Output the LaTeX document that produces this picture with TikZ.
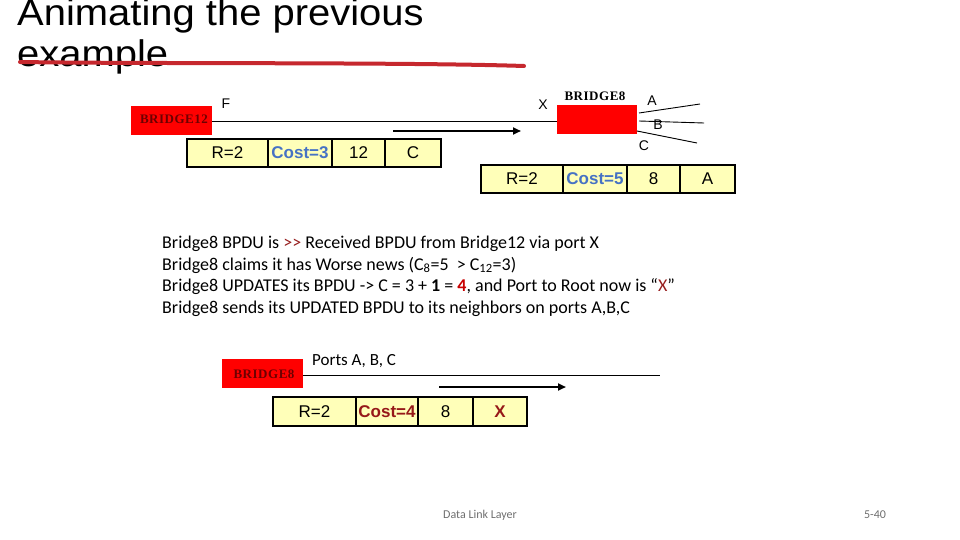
\documentclass[tikz,border=0pt]{standalone}
\usepackage{fontspec}
\setmainfont{Liberation Sans}
\newfontfamily\carl{Carlito}
\newfontfamily\titlefont[FakeStretch=1.08]{Liberation Sans}
\newfontfamily\brf[LetterSpace=4]{Liberation Serif}
\usetikzlibrary{arrows.meta}
\definecolor{cellyellow}{RGB}{255,255,185}
\definecolor{costblue}{RGB}{70,114,196}
\definecolor{costred}{RGB}{150,25,25}
\definecolor{brred}{RGB}{110,0,0}
\definecolor{darkred}{RGB}{150,30,30}
\definecolor{brightred}{RGB}{200,0,0}
\definecolor{strokered}{RGB}{198,40,46}
\definecolor{footgray}{RGB}{110,110,110}
\begin{document}
\begin{tikzpicture}[x=1pt,y=-1pt,
  cell/.style={draw=black, line width=2.6pt, fill=cellyellow, inner sep=0pt,
    minimum height=28pt, font=\fontsize{17}{20}\selectfont},
  bridgebox/.style={fill=red, inner sep=0pt, minimum width=81pt, minimum height=29pt},
  brlabel/.style={font=\brf\bfseries\fontsize{13}{15}\selectfont, inner sep=0pt},
  portlabel/.style={font=\fontsize{14}{16}\selectfont, inner sep=0pt},
  bodytext/.style={font=\carl\fontsize{18}{21}\selectfont, anchor=base west, inner sep=0pt},
  titletext/.style={font=\titlefont\fontsize{37}{43}\selectfont, anchor=base west, inner sep=0pt},
  wire/.style={line width=0.9pt},
  sendarrow/.style={line width=2pt, -{Triangle[length=8pt,width=7pt]}},
  foot/.style={font=\carl\fontsize{12}{14}\selectfont, text=footgray, inner sep=0pt}]
\useasboundingbox (0,0) rectangle (960,540);

% title
\node[titletext] (t1) at (17,26) {Animating the previous};
\node[titletext] (t2) at (17,67) {example};
\draw[strokered, line width=4pt, line cap=round] (20,62) .. controls (150,64) and (400,62) .. (524,66);

% top: bridge 12 and bridge 8
\node[bridgebox] (b12) at (171.5,121) {};
\node[brlabel, text=brred] (b12l) at (174,119.5) {BRIDGE12};
\node[bridgebox, minimum width=80pt] (b8) at (597,119.5) {};
\node[brlabel, text=black] (b8l) at (595,96) {BRIDGE8};
\draw[wire] (b12.east) -- (b12.east -| b8.west);
\node[portlabel] (lf) at (226,104) {F};
\node[portlabel] (lx) at (543,105) {X};

\coordinate (pa0) at (639,113);
\coordinate (pa1) at (700,104);
\coordinate (pb0) at (639,121);
\coordinate (pb1) at (704,123);
\coordinate (pc0) at (637,131);
\coordinate (pc1) at (697,143);
\draw[wire] (pa0) -- (pa1);
\draw[wire] (pb0) -- (pb1);
\draw[wire] (pc0) -- (pc1);
\node[portlabel] (la) at (652,101) {A};
\node[portlabel] (lb) at (658,125) {B};
\node[portlabel] (lc) at (644,146) {C};

\coordinate (a1s) at (393,131);
\coordinate (a1e) at (521,131);
\draw[sendarrow] (a1s) -- (a1e);

% table 1
\node[cell, minimum width=81pt] (c11) at (227.5,153) {R=2};
\node[cell, minimum width=64pt, text=costblue, font=\bfseries\fontsize{17}{20}\selectfont] (c12) at (300,153) {Cost=3};
\node[cell, minimum width=53pt] (c13) at (358.5,153) {12};
\node[cell, minimum width=56pt] (c14) at (413,153) {C};

% table 2
\node[cell, minimum width=82pt] (c21) at (522,179) {R=2};
\node[cell, minimum width=64pt, text=costblue, font=\bfseries\fontsize{17}{20}\selectfont] (c22) at (595,179) {Cost=5};
\node[cell, minimum width=53pt] (c23) at (653.5,179) {8};
\node[cell, minimum width=55pt] (c24) at (707.5,179) {A};

% explanation
\node[bodytext] (l1) at (162,248) {Bridge8 BPDU is \textcolor{darkred}{>>} Received BPDU from Bridge12 via port X};
\node[bodytext] (l2) at (162,270) {Bridge8 claims it has Worse news (C\textsubscript{8}=5 \ > C\textsubscript{12}=3)};
\node[bodytext] (l3) at (162,291) {Bridge8 UPDATES its BPDU -> C = 3 + \textbf{1} = \textcolor{brightred}{\textbf{4}}, and Port to Root now is “\textcolor{darkred}{X}”};
\node[bodytext] (l4) at (162,313) {Bridge8 sends its UPDATED BPDU to its neighbors on ports A,B,C};

% bottom
\node[bridgebox] (b8b) at (262.5,373.5) {};
\node[brlabel, text=brred] (b8bl) at (264,374) {BRIDGE8};
\coordinate (wend) at (660,375);
\draw[wire] (b8b.east |- wend) -- (wend);
\node[anchor=base west, inner sep=0pt, font=\carl\fontsize{17}{20}\selectfont] (ports) at (312,365) {Ports A, B, C};
\coordinate (a2s) at (439,387);
\coordinate (a2e) at (566,387);
\draw[sendarrow] (a2s) -- (a2e);

% table 3
\node[cell, minimum width=83pt, minimum height=29pt] (c31) at (314.5,411.5) {R=2};
\node[cell, minimum width=62pt, minimum height=29pt, text=costred, font=\bfseries\fontsize{17}{20}\selectfont] (c32) at (387,411.5) {Cost=4};
\node[cell, minimum width=55pt, minimum height=29pt] (c33) at (445.5,411.5) {8};
\node[cell, minimum width=54pt, minimum height=29pt, text=costred, font=\bfseries\fontsize{17}{20}\selectfont] (c34) at (500,411.5) {X};

% footer
\node[foot] (f1) at (480,515) {Data Link Layer};
\node[foot] (f2) at (875,515) {5-40};
\end{tikzpicture}
\end{document}
